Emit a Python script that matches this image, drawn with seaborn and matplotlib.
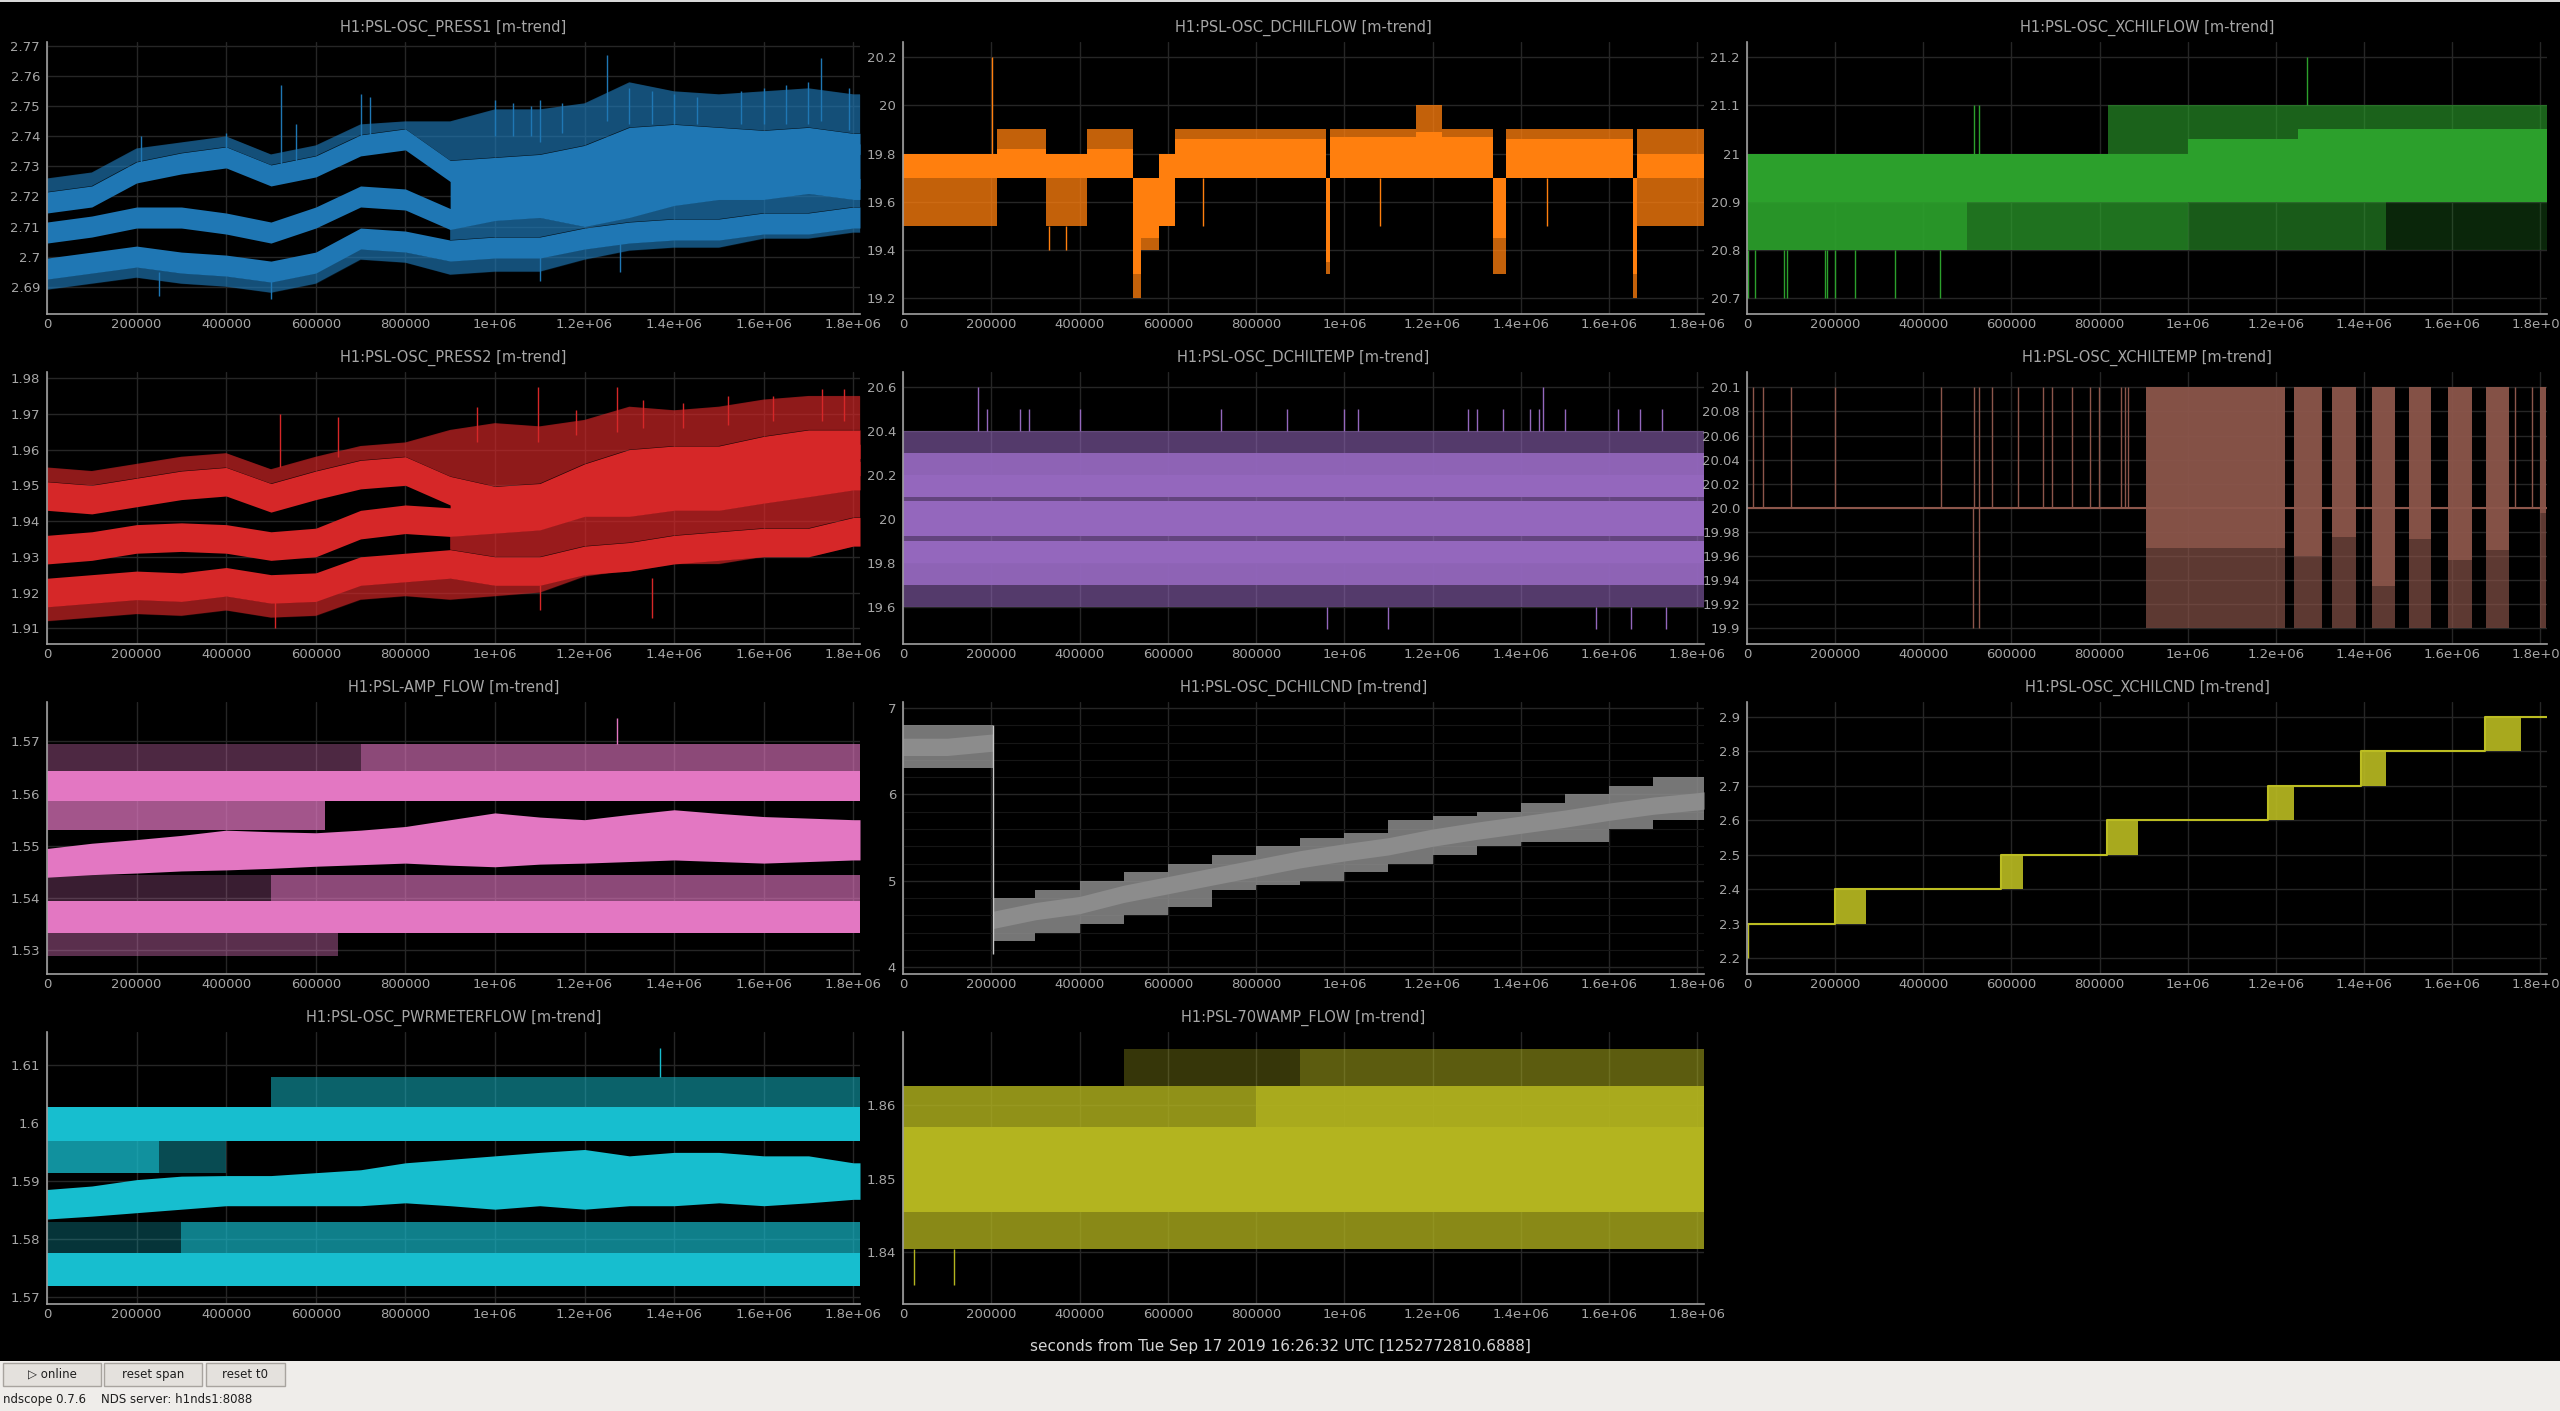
import matplotlib
matplotlib.use("Agg")
import numpy as np
import matplotlib.pyplot as plt
import seaborn as sns
from matplotlib.patches import Rectangle
from matplotlib.ticker import FuncFormatter, MultipleLocator

# ---------------------------------------------------------------- data
t_end = 1815000
t_grid = [0, 100000, 200000, 300000, 400000, 500000, 600000, 700000, 800000, 900000,
          1000000, 1100000, 1200000, 1300000, 1400000, 1500000, 1600000, 1700000,
          1800000, 1815000]

# PRESS1: max / mean / min trace bands, outer (sparse) envelope
press1_env_hi = [2.726, 2.728, 2.736, 2.738, 2.740, 2.734, 2.737, 2.744, 2.745, 2.745,
                 2.749, 2.749, 2.751, 2.758, 2.755, 2.754, 2.755, 2.756, 2.754, 2.754]
press1_up = [2.718, 2.720, 2.728, 2.731, 2.733, 2.727, 2.730, 2.737, 2.739, 2.7285,
             2.7295, 2.7305, 2.7335, 2.7395, 2.7405, 2.7395, 2.7385, 2.7395, 2.7375, 2.7375]
press1_mean = [2.708, 2.710, 2.713, 2.713, 2.711, 2.708, 2.713, 2.720, 2.719, 2.7125,
               2.7155, 2.7165, 2.7135, 2.7165, 2.7205, 2.7225, 2.7225, 2.7245, 2.7225, 2.7225]
press1_low = [2.696, 2.698, 2.700, 2.698, 2.697, 2.695, 2.698, 2.706, 2.705, 2.702,
              2.703, 2.703, 2.706, 2.708, 2.709, 2.709, 2.711, 2.711, 2.713, 2.713]
press1_env_lo = [2.689, 2.691, 2.693, 2.691, 2.690, 2.688, 2.691, 2.699, 2.698, 2.694,
                 2.695, 2.695, 2.699, 2.702, 2.703, 2.703, 2.706, 2.706, 2.708, 2.708]
press1_merge_t = 900000
press1_spike_t = [210000, 400000, 522000, 555000, 700000, 720000, 1100000, 1250000, 1727000,
                  1000000, 1040000, 1080000, 1150000, 1300000, 1350000, 1400000, 1450000,
                  1550000, 1600000, 1650000, 1700000, 1790000,
                  250000, 500000, 1100000, 1280000]
press1_spike_lo = [2.728, 2.732, 2.730, 2.728, 2.735, 2.735, 2.738, 2.745, 2.745,
                   2.740, 2.740, 2.740, 2.741, 2.744, 2.744, 2.744, 2.744,
                   2.744, 2.744, 2.744, 2.744, 2.742,
                   2.687, 2.686, 2.692, 2.695]
press1_spike_hi = [2.740, 2.741, 2.757, 2.744, 2.754, 2.753, 2.752, 2.767, 2.766,
                   2.752, 2.751, 2.750, 2.751, 2.756, 2.755, 2.754, 2.753,
                   2.755, 2.756, 2.757, 2.758, 2.756,
                   2.695, 2.695, 2.702, 2.705]

# PRESS2
press2_env_hi = [1.955, 1.954, 1.956, 1.958, 1.959, 1.9545, 1.958, 1.961, 1.962, 1.9655,
                 1.9674, 1.9665, 1.9683, 1.972, 1.971, 1.972, 1.974, 1.975, 1.975, 1.975]
press2_up = [1.947, 1.946, 1.948, 1.950, 1.951, 1.9465, 1.950, 1.953, 1.954, 1.9485,
             1.9457, 1.9465, 1.952, 1.956, 1.957, 1.957, 1.9597, 1.9615, 1.9615, 1.9615]
press2_mean = [1.932, 1.933, 1.935, 1.9355, 1.935, 1.933, 1.934, 1.939, 1.9405, 1.9397,
               1.9406, 1.9415, 1.9453, 1.9453, 1.947, 1.947, 1.949, 1.9508, 1.9527, 1.9527]
press2_low = [1.920, 1.921, 1.922, 1.9215, 1.923, 1.921, 1.9215, 1.926, 1.927, 1.928,
              1.926, 1.926, 1.929, 1.930, 1.932, 1.933, 1.934, 1.934, 1.937, 1.937]
press2_env_lo = [1.912, 1.913, 1.914, 1.9135, 1.915, 1.913, 1.9135, 1.918, 1.919, 1.918,
                 1.919, 1.920, 1.9245, 1.9263, 1.928, 1.928, 1.930, 1.930, 1.9338, 1.9338]
press2_merge_t = 900000
press2_spike_t = [520000, 650000, 1096000, 1272000, 1730000, 1780000, 960000, 1180000,
                  1330000, 1420000, 1520000, 1620000, 510000, 1100000, 1350000]
press2_spike_lo = [1.955, 1.958, 1.962, 1.965, 1.968, 1.968, 1.962, 1.964,
                   1.966, 1.966, 1.967, 1.968, 1.910, 1.915, 1.913]
press2_spike_hi = [1.970, 1.969, 1.9775, 1.9775, 1.977, 1.977, 1.972, 1.971,
                   1.974, 1.973, 1.975, 1.975, 1.918, 1.922, 1.924]

# DCHILFLOW: piecewise segments
dchilflow_edges = [0, 212000, 323000, 416000, 521000, 540000, 580000, 617000, 959000, 968000,
                   1163000, 1222000, 1336000, 1367000, 1654000, 1663000, 1815000]
dchilflow_solid_lo = [19.70, 19.70, 19.70, 19.70, 19.30, 19.45, 19.50, 19.70, 19.35, 19.70,
                      19.70, 19.70, 19.45, 19.70, 19.30, 19.70]
dchilflow_solid_hi = [19.80, 19.82, 19.80, 19.82, 19.70, 19.70, 19.80, 19.86, 19.70, 19.87,
                      19.89, 19.87, 19.70, 19.86, 19.70, 19.80]
dchilflow_dot_lo = [19.50, 19.70, 19.50, 19.70, 19.20, 19.40, 19.50, 19.70, 19.30, 19.70,
                    19.70, 19.70, 19.30, 19.70, 19.20, 19.50]
dchilflow_dot_hi = [19.80, 19.90, 19.80, 19.90, 19.70, 19.70, 19.80, 19.90, 19.70, 19.90,
                    20.00, 19.90, 19.70, 19.90, 19.70, 19.90]
dchilflow_spike_t = [202000, 330000, 370000, 680000, 1080000, 1460000]
dchilflow_spike_lo = [19.80, 19.40, 19.40, 19.50, 19.50, 19.50]
dchilflow_spike_hi = [20.20, 19.50, 19.50, 19.70, 19.70, 19.70]

# XCHILFLOW
xchilflow_t0 = [0, 500000, 1000000, 1450000, 820000, 0, 1000000, 1250000]
xchilflow_t1 = [500000, 1000000, 1450000, 1815000, 1815000, 1000000, 1250000, 1815000]
xchilflow_lo = [20.80, 20.80, 20.80, 20.80, 21.00, 20.90, 20.90, 20.90]
xchilflow_hi = [20.90, 20.90, 20.90, 20.90, 21.10, 21.00, 21.03, 21.05]
xchilflow_density = [0.75, 0.5, 0.35, 0.07, 0.4, 1.0, 1.0, 1.0]
xchilflow_spike_t = [2500, 17500, 84000, 90000, 177000, 182000, 199000, 246000, 336000, 439000,
                     515000, 527000, 1270000]
xchilflow_spike_lo = [20.7] * 10 + [21.0, 21.0, 21.1]
xchilflow_spike_hi = [20.8] * 10 + [21.1, 21.1, 21.2]

# DCHILTEMP: constant bands over the whole span
dchiltemp_lo = [20.30, 19.60, 20.20, 19.70, 20.10, 19.92, 19.80, 20.08, 19.90]
dchiltemp_hi = [20.40, 19.70, 20.30, 19.80, 20.20, 20.08, 19.90, 20.10, 19.92]
dchiltemp_density = [0.35, 0.35, 0.8, 0.8, 1.0, 1.0, 1.0, 0.45, 0.45]
dchiltemp_spike_t = [170000, 190000, 265000, 285000, 400000, 720000, 870000, 1000000, 1030000,
                     1280000, 1300000, 1360000, 1420000, 1440000, 1450000, 1500000, 1620000,
                     1670000, 1720000, 960000, 1100000, 1570000, 1650000, 1730000]
dchiltemp_spike_lo = [20.4] * 19 + [19.5] * 5
dchiltemp_spike_hi = [20.6, 20.5, 20.5, 20.5, 20.5, 20.5, 20.5, 20.5, 20.5, 20.5, 20.5, 20.5,
                      20.5, 20.5, 20.6, 20.5, 20.5, 20.5, 20.5] + [19.6] * 5

# XCHILTEMP: flat 20.0 with bursts
xchiltemp_base = 20.0
xchiltemp_top = 20.1
xchiltemp_bottom = 19.9
xchiltemp_block_t0 = [905000, 1240000, 1328000, 1418000, 1503000, 1590000, 1676000, 1799000]
xchiltemp_block_t1 = [1220000, 1305000, 1382000, 1470000, 1551000, 1645000, 1728000, 1812000]
xchiltemp_block_lo = [19.967, 19.96, 19.976, 19.935, 19.974, 19.957, 19.965, 19.996]
xchiltemp_spike_t = [14000, 36000, 100000, 200000, 440000, 516000, 527000, 556000, 614000,
                     671000, 692000, 737000, 779000, 799000, 849000, 857000, 865000,
                     1742000, 1782000, 513000, 526000]
xchiltemp_spike_lo = [20.0] * 19 + [19.9, 19.9]
xchiltemp_spike_hi = [20.1] * 19 + [20.0, 20.0]

# AMP_FLOW
ampflow_mean_lo = [1.5440, 1.5445, 1.5448, 1.5452, 1.5454, 1.5457, 1.5461, 1.5464, 1.5467, 1.5463,
                   1.5460, 1.5465, 1.5467, 1.5470, 1.5473, 1.5470, 1.5467, 1.5470, 1.5473, 1.5473]
ampflow_mean_hi = [1.5495, 1.5505, 1.5512, 1.5520, 1.5530, 1.5527, 1.5525, 1.5530, 1.5537, 1.5550,
                   1.5563, 1.5555, 1.5550, 1.5560, 1.5569, 1.5562, 1.5556, 1.5553, 1.5550, 1.5550]
ampflow_t0 = [0, 700000, 0, 0, 500000, 0, 0, 750000, 0]
ampflow_t1 = [700000, 1815000, 1815000, 620000, 1815000, 500000, 750000, 1815000, 650000]
ampflow_lo = [1.5643, 1.5643, 1.5585, 1.5530, 1.5394, 1.5394, 1.5333, 1.5333, 1.5290]
ampflow_hi = [1.5695, 1.5695, 1.5643, 1.5585, 1.5445, 1.5445, 1.5394, 1.5394, 1.5333]
ampflow_density = [0.15, 0.4, 1.0, 0.5, 0.4, 0.08, 1.0, 0.85, 0.2]
ampflow_spike_t = [1272500]
ampflow_spike_lo = [1.5695]
ampflow_spike_hi = [1.5745]

# DCHILCND
dchilcnd_t = [0, 100000, 204000, 205000, 300000, 400000, 500000, 600000, 700000, 800000, 900000,
              1000000, 1100000, 1200000, 1300000, 1400000, 1500000, 1600000, 1700000, 1800000,
              1815000]
dchilcnd_lo = [6.3, 6.3, 6.3, 4.3, 4.4, 4.5, 4.6, 4.7, 4.9, 4.95, 5.0, 5.1, 5.2, 5.3, 5.4, 5.45,
               5.45, 5.6, 5.7, 5.7, 5.7]
dchilcnd_hi = [6.8, 6.8, 6.8, 4.8, 4.9, 5.0, 5.1, 5.2, 5.3, 5.4, 5.5, 5.55, 5.7, 5.75, 5.8, 5.9,
               6.0, 6.1, 6.2, 6.2, 6.2]
dchilcnd_mid = [6.55, 6.55, 6.6, 4.55, 4.65, 4.72, 4.85, 4.95, 5.05, 5.15, 5.25, 5.33, 5.4, 5.5,
                5.58, 5.65, 5.72, 5.8, 5.87, 5.92, 5.93]
dchilcnd_jump_t = 205000
dchilcnd_jump_lo = 4.15
dchilcnd_jump_hi = 6.8

# XCHILCND: stepped setpoint with switching bursts
xchilcnd_t = [0, 200000, 577000, 817000, 1182000, 1392000, 1674000, 1815000]
xchilcnd_v = [2.3, 2.4, 2.5, 2.6, 2.7, 2.8, 2.9, 2.9]
xchilcnd_block_t0 = [200000, 577000, 817000, 1182000, 1392000, 1674000]
xchilcnd_block_t1 = [271000, 627000, 886000, 1240000, 1449000, 1755000]

# PWRMETERFLOW
pwr_mean_lo = [1.5835, 1.5840, 1.5846, 1.5852, 1.5858, 1.5858, 1.5858, 1.5858, 1.5863, 1.5858,
               1.5852, 1.5858, 1.5852, 1.5858, 1.5858, 1.5863, 1.5858, 1.5863, 1.5869, 1.5869]
pwr_mean_hi = [1.5886, 1.5892, 1.5903, 1.5909, 1.5910, 1.5910, 1.5915, 1.5920, 1.5932, 1.5938,
               1.5944, 1.5950, 1.5955, 1.5944, 1.5950, 1.5950, 1.5944, 1.5944, 1.5932, 1.5932]
pwr_t0 = [500000, 0, 0, 250000, 300000, 0, 0, 300000]
pwr_t1 = [1815000, 1815000, 250000, 400000, 1815000, 300000, 300000, 1815000]
pwr_lo = [1.6028, 1.5969, 1.5915, 1.5915, 1.5777, 1.5777, 1.5720, 1.5720]
pwr_hi = [1.6080, 1.6028, 1.5969, 1.5969, 1.5830, 1.5830, 1.5777, 1.5777]
pwr_density = [0.3, 1.0, 0.55, 0.2, 0.45, 0.1, 1.0, 0.85]
pwr_spike_t = [1367500]
pwr_spike_lo = [1.608]
pwr_spike_hi = [1.613]

# 70WAMP_FLOW
amp70_t0 = [0, 0, 800000, 0, 500000, 900000]
amp70_t1 = [1815000, 800000, 1815000, 1815000, 900000, 1815000]
amp70_lo = [1.8455, 1.8570, 1.8570, 1.8405, 1.8625, 1.8625]
amp70_hi = [1.8570, 1.8625, 1.8625, 1.8455, 1.8675, 1.8675]
amp70_density = [1.0, 0.6, 0.95, 0.55, 0.12, 0.3]
amp70_spike_t = [25000, 115000]
amp70_spike_lo = [1.8355, 1.8355]
amp70_spike_hi = [1.8405, 1.8405]

titles = ["H1:PSL-OSC_PRESS1 [m-trend]", "H1:PSL-OSC_DCHILFLOW [m-trend]",
          "H1:PSL-OSC_XCHILFLOW [m-trend]", "H1:PSL-OSC_PRESS2 [m-trend]",
          "H1:PSL-OSC_DCHILTEMP [m-trend]", "H1:PSL-OSC_XCHILTEMP [m-trend]",
          "H1:PSL-AMP_FLOW [m-trend]", "H1:PSL-OSC_DCHILCND [m-trend]",
          "H1:PSL-OSC_XCHILCND [m-trend]", "H1:PSL-OSC_PWRMETERFLOW [m-trend]",
          "H1:PSL-70WAMP_FLOW [m-trend]"]
ylims = [(2.6809, 2.7714), (19.135, 20.262), (20.6675, 21.231), (1.9056, 1.9817),
         (19.430, 20.668), (19.887, 20.1127), (1.5255, 1.5775), (3.923, 7.069),
         (2.1545, 2.9436), (1.56885, 1.61576), (1.83299, 1.86986)]
ysteps = [0.01, 0.2, 0.1, 0.01, 0.2, 0.02, 0.01, 1, 0.1, 0.01, 0.01]

xlabel = "seconds from Tue Sep 17 2019 16:26:32 UTC [1252772810.6888]"

# ---------------------------------------------------------------- style
sns.set_theme(style="darkgrid", rc={
    "axes.facecolor": "black", "figure.facecolor": "black",
    "grid.color": "#262626", "axes.edgecolor": "#a0a0a0",
    "xtick.color": "#a6a6a6", "ytick.color": "#a6a6a6", "text.color": "#a6a6a6",
    "hatch.linewidth": 1.0})
plt.rcParams['font.family'] = ['DejaVu Sans']

pal = sns.color_palette("tab10")
colors = [pal[0], pal[1], pal[2], pal[3], pal[4], pal[5], pal[6], "#8c8c8c", pal[8], pal[9],
          "#b3b41f"]

W, H = 2560, 1411
fig = plt.figure(figsize=(W / 100, H / 100), dpi=100)
col_px = [(47, 860), (903, 1704), (1747, 2547)]
row_px = [(42, 314), (372, 644), (702, 974), (1032, 1304)]
STREAKS = "|" * 28


def make_axes(i):
    l, r = col_px[i % 3]
    t, b = row_px[i // 3]
    return fig.add_axes([l / W, 1 - b / H, (r - l) / W, (b - t) / H])


def yfmt(v, pos):
    return f"{round(v, 6):g}"


def style(ax, i):
    ax.set_facecolor("black")
    ax.set_xlim(0, t_end)
    ax.set_ylim(*ylims[i])
    ax.xaxis.set_major_locator(MultipleLocator(200000))
    ax.xaxis.set_major_formatter(FuncFormatter(lambda v, p: f"{v:g}"))
    ax.yaxis.set_major_locator(MultipleLocator(ysteps[i]))
    ax.yaxis.set_major_formatter(FuncFormatter(yfmt))
    ax.grid(True, color="#262626", lw=1)
    ax.set_axisbelow(True)
    for s in ("top", "right"):
        ax.spines[s].set_visible(False)
    for s in ("left", "bottom"):
        ax.spines[s].set_color("#a0a0a0")
        ax.spines[s].set_linewidth(1.2)
    ax.tick_params(length=0, labelsize=9.5, colors="#a6a6a6")
    ax.tick_params(axis="y", pad=5)
    ax.tick_params(axis="x", pad=3)
    ax.set_title(titles[i], color="#a6a6a6", fontsize=10.5, pad=7)


def sparse_fill(ax, x, lo, hi, color, dens, **kw):
    # sparse min/max coverage: faint wash plus vertical streaks
    ax.fill_between(x, lo, hi, facecolor=color, alpha=dens * 0.4, lw=0, **kw)
    ax.fill_between(x, lo, hi, facecolor="none", edgecolor=color, hatch=STREAKS,
                    alpha=min(1.0, dens + 0.15), lw=0, **kw)


def draw_trend(ax, color, env_lo, low, mean, up, env_hi, w, merge_t):
    t = np.array(t_grid)
    env_lo, low, mean, up, env_hi = map(np.array, (env_lo, low, mean, up, env_hi))
    sparse_fill(ax, t, env_lo, low - w, color, 0.45)
    sparse_fill(ax, t, up + w, env_hi, color, 0.45)
    merged = t >= merge_t
    sparse_fill(ax, t, low + w, mean - w, color, 0.5, where=merged)
    ax.fill_between(t, mean, up, where=merged, color=color, lw=0)
    for c in (low, mean, up):
        ax.fill_between(t, c - w, c + w, color=color, lw=0)


def draw_segments(ax, color, t0, t1, lo, hi, dens):
    for a, b, l, h, d in zip(t0, t1, lo, hi, dens):
        if d >= 0.9:
            ax.fill_between([a, b], [l, l], [h, h], color=color, alpha=d, lw=0)
        else:
            sparse_fill(ax, [a, b], [l, l], [h, h], color, d)


def draw_spikes(ax, color, t, lo, hi):
    ax.vlines(t, lo, hi, color=color, lw=1)


axes = [make_axes(i) for i in range(11)]
for i, ax in enumerate(axes):
    style(ax, i)

# PRESS1
ax = axes[0]
draw_trend(ax, colors[0], press1_env_lo, press1_low, press1_mean, press1_up, press1_env_hi,
           0.0035, press1_merge_t)
draw_spikes(ax, colors[0], press1_spike_t, press1_spike_lo, press1_spike_hi)

# DCHILFLOW
ax = axes[1]
e = dchilflow_edges
draw_segments(ax, colors[1], e[:-1], e[1:], dchilflow_dot_lo, dchilflow_dot_hi,
              [0.55] * len(dchilflow_dot_lo))
draw_segments(ax, colors[1], e[:-1], e[1:], dchilflow_solid_lo, dchilflow_solid_hi,
              [1.0] * len(dchilflow_solid_lo))
draw_spikes(ax, colors[1], dchilflow_spike_t, dchilflow_spike_lo, dchilflow_spike_hi)

# XCHILFLOW
ax = axes[2]
draw_segments(ax, colors[2], xchilflow_t0, xchilflow_t1, xchilflow_lo, xchilflow_hi,
              xchilflow_density)
draw_spikes(ax, colors[2], xchilflow_spike_t, xchilflow_spike_lo, xchilflow_spike_hi)

# PRESS2
ax = axes[3]
draw_trend(ax, colors[3], press2_env_lo, press2_low, press2_mean, press2_up, press2_env_hi,
           0.004, press2_merge_t)
draw_spikes(ax, colors[3], press2_spike_t, press2_spike_lo, press2_spike_hi)

# DCHILTEMP
ax = axes[4]
n = len(dchiltemp_lo)
draw_segments(ax, colors[4], [0] * n, [t_end] * n, dchiltemp_lo, dchiltemp_hi,
              dchiltemp_density)
draw_spikes(ax, colors[4], dchiltemp_spike_t, dchiltemp_spike_lo, dchiltemp_spike_hi)

# XCHILTEMP
ax = axes[5]
sns.lineplot(x=[0, t_end], y=[xchiltemp_base, xchiltemp_base], ax=ax, color=colors[5], lw=1.5)
nb = len(xchiltemp_block_t0)
draw_segments(ax, colors[5], xchiltemp_block_t0, xchiltemp_block_t1,
              [xchiltemp_base] * nb, [xchiltemp_top] * nb, [0.95] * nb)
draw_segments(ax, colors[5], xchiltemp_block_t0, xchiltemp_block_t1,
              [xchiltemp_bottom] * nb, xchiltemp_block_lo, [0.45] * nb)
draw_segments(ax, colors[5], xchiltemp_block_t0, xchiltemp_block_t1,
              xchiltemp_block_lo, [xchiltemp_base] * nb, [0.95] * nb)
draw_spikes(ax, colors[5], xchiltemp_spike_t, xchiltemp_spike_lo, xchiltemp_spike_hi)
ax.yaxis.set_major_formatter(FuncFormatter(
    lambda v, p: "20.0" if abs(v - 20.0) < 1e-9 else f"{round(v, 6):g}"))

# AMP_FLOW
ax = axes[6]
draw_segments(ax, colors[6], ampflow_t0, ampflow_t1, ampflow_lo, ampflow_hi, ampflow_density)
ax.fill_between(t_grid, ampflow_mean_lo, ampflow_mean_hi, color=colors[6], lw=0)
draw_spikes(ax, colors[6], ampflow_spike_t, ampflow_spike_lo, ampflow_spike_hi)

# DCHILCND
ax = axes[7]
ax.yaxis.set_minor_locator(MultipleLocator(0.2))
ax.grid(True, which="minor", color="#161616", lw=0.8)
sparse_fill(ax, dchilcnd_t, dchilcnd_lo, dchilcnd_hi, colors[7], 0.65, step="post")
mid = np.array(dchilcnd_mid)
ax.fill_between(dchilcnd_t, mid - 0.1, mid + 0.1, color=colors[7], lw=0)
ax.vlines([dchilcnd_jump_t], [dchilcnd_jump_lo], [dchilcnd_jump_hi], color="#c8c8c8", lw=1)

# XCHILCND
ax = axes[8]
sns.lineplot(x=xchilcnd_t, y=xchilcnd_v, ax=ax, color=colors[8], lw=1.5,
             drawstyle="steps-post")
nb = len(xchilcnd_block_t0)
draw_segments(ax, colors[8], xchilcnd_block_t0, xchilcnd_block_t1,
              xchilcnd_v[:nb], xchilcnd_v[1:nb + 1], [0.9] * nb)
draw_spikes(ax, colors[8], [2000], [2.2], [2.3])

# PWRMETERFLOW
ax = axes[9]
draw_segments(ax, colors[9], pwr_t0, pwr_t1, pwr_lo, pwr_hi, pwr_density)
ax.fill_between(t_grid, pwr_mean_lo, pwr_mean_hi, color=colors[9], lw=0)
draw_spikes(ax, colors[9], pwr_spike_t, pwr_spike_lo, pwr_spike_hi)

# 70WAMP_FLOW
ax = axes[10]
draw_segments(ax, colors[10], amp70_t0, amp70_t1, amp70_lo, amp70_hi, amp70_density)
draw_spikes(ax, colors[10], amp70_spike_t, amp70_spike_lo, amp70_spike_hi)

for ax in axes:
    ax.set_xlabel("")
    ax.set_ylabel("")

fig.text(0.5, 1 - 1347 / H, xlabel, ha="center", va="center", color="#d4d4d4", fontsize=11)

# ---------------------------------------------------------------- bottom tool bar
fig.add_artist(Rectangle((0, 0), 1, 50 / H, transform=fig.transFigure,
                         facecolor="#efedea", edgecolor="none"))
fig.add_artist(Rectangle((0, 1 - 2 / H), 1, 2 / H, transform=fig.transFigure,
                         facecolor="#d8d8d8", edgecolor="none"))
for x0, x1, label in [(3, 101, "\u25b7 online"), (104, 202, "reset span"), (206, 285, "reset t0")]:
    fig.add_artist(Rectangle((x0 / W, 1 - 1386 / H), (x1 - x0) / W, 23 / H,
                             transform=fig.transFigure, facecolor="#e4e1dd",
                             edgecolor="#a8a49f", lw=1))
    fig.text((x0 + x1) / 2 / W, 1 - 1374.5 / H, label, ha="center", va="center",
             color="#1e1e1e", fontsize=8.5)
fig.text(3 / W, 1 - 1400 / H, "ndscope 0.7.6    NDS server: h1nds1:8088", ha="left",
         va="center", color="#1e1e1e", fontsize=8.5)

fig.savefig("out.png", dpi=100, facecolor="black")
